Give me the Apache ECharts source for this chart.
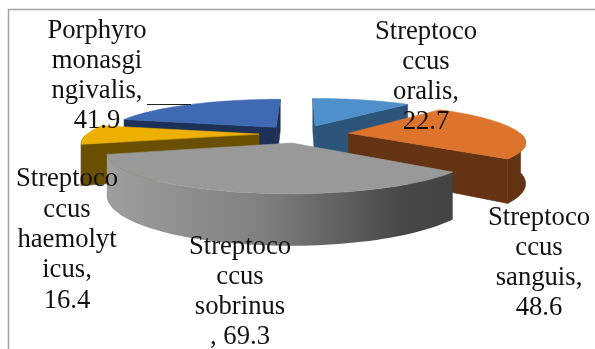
<!DOCTYPE html>
<html>
<head>
<meta charset="utf-8">
<style>html,body{margin:0;padding:0;background:#fff}#chart{width:595px;height:349px}</style>
<script src="https://cdn.jsdelivr.net/npm/echarts@6/dist/echarts.min.js"></script>
</head>
<body>
<div id="chart"></div>
<script>
// Bacterial species share, drawn as an exploded 3D pie (clockwise from 12 o'clock).
const names = [
  'Streptoco\nccus\noralis',
  'Streptoco\nccus\nsanguis',
  'Streptoco\nccus\nsobrinus',
  'Streptoco\nccus\nhaemolyt\nicus',
  'Porphyro\nmonasgi\nngivalis'
];
const values = [22.7, 48.6, 69.3, 16.4, 41.9];
const separators = [',\n', ',\n', '\n, ', ',\n', ',\n'];

const topColors = ['#4f8fca', '#dd742b', '#999999', '#edb000', '#3f69b3'];
const wallColors = ['#2c5479', '#633313', null, '#6b4f00', '#1d3157'];
const grayWall = {
  type: 'linear', x: 0, y: 0, x2: 1, y2: 0,
  colorStops: [
    { offset: 0, color: '#9e9e9e' },
    { offset: 0.45, color: '#808080' },
    { offset: 0.85, color: '#474747' },
    { offset: 1, color: '#434343' }
  ]
};
const labelCenters = [[426, 77], [539, 263], [240, 292], [67, 240], [97, 76]];
const explode = [42, 48, 42, 42, 42];

// Pie geometry and the perspective camera
const view = { cx: 301, cy: 134, radius: 172, tilt: 0.21, camera: 850, depth: 39 };
const total = values.reduce((a, b) => a + b, 0);
const rad = d => d * Math.PI / 180;

function project(wx, wy, drop) {
  const s = view.camera / (view.camera - wy);
  return [view.cx + wx * s, view.cy + view.tilt * wy * s + (drop ? view.depth * s : 0)];
}
function prism(i) {
  const before = values.slice(0, i).reduce((a, b) => a + b, 0);
  const a0 = before / total * 360, a1 = (before + values[i]) / total * 360;
  const mid = rad((a0 + a1) / 2);
  const ox = Math.sin(mid) * explode[i], oy = -Math.cos(mid) * explode[i];
  const rim = a => [ox + Math.sin(rad(a)) * view.radius, oy - Math.cos(rad(a)) * view.radius];
  return { a0, a1, mid, ox, oy, rim };
}

function renderSlice(params, api) {
  const i = params.dataIndex;
  const p = prism(i);
  const base = Math.round(Math.cos(p.mid + Math.PI) * 1000) + 2000;
  const children = [];
  const steps = Math.max(8, Math.ceil((p.a1 - p.a0) / 2));
  const angles = [];
  for (let k = 0; k <= steps; k++) angles.push(p.a0 + (p.a1 - p.a0) * k / steps);

  const addRadial = (angle, sign) => {
    const [rx, ry] = p.rim(angle);
    const nx = Math.sin(rad(angle + sign * 90)), ny = -Math.cos(rad(angle + sign * 90));
    const facing = nx * (0 - p.ox) + ny * (view.camera - p.oy) > 0;
    if (!facing) return;
    const fill = wallColors[i] || '#7a7a7a';
    children.push({
      type: 'polygon', z2: base,
      shape: { points: [project(p.ox, p.oy), project(rx, ry), project(rx, ry, true), project(p.ox, p.oy, true)] },
      style: { fill, stroke: fill, lineWidth: 0.6 }
    });
  };
  addRadial(p.a0, -1);
  addRadial(p.a1, 1);

  // Outer wall: only the stretch of rim turned towards the camera
  const wallAngles = angles.filter(a => a >= 90 && a <= 270);
  if (wallAngles.length > 1) {
    const upper = wallAngles.map(a => project(...p.rim(a)));
    const lower = wallAngles.map(a => project(...p.rim(a), true)).reverse();
    children.push({
      type: 'polygon', z2: base + 1,
      shape: { points: upper.concat(lower) },
      style: wallColors[i]
        ? { fill: wallColors[i], stroke: wallColors[i], lineWidth: 0.6 }
        : { fill: grayWall }
    });
  }

  // Top face
  const top = [project(p.ox, p.oy)].concat(angles.map(a => project(...p.rim(a))));
  children.push({
    type: 'polygon', z2: base + 2,
    shape: { points: top },
    style: { fill: topColors[i], stroke: topColors[i], lineWidth: 0.6 }
  });

  // Data label: name and value
  const [lx, ly] = labelCenters[i];
  children.push({
    type: 'text', z2: 9000,
    style: {
      text: names[i] + separators[i] + api.value(1),
      x: lx, y: ly, align: 'center', verticalAlign: 'middle',
      font: '26.67px "Liberation Serif", serif', lineHeight: 30.3, fill: '#111111'
    }
  });
  return { type: 'group', children };
}

const chart = echarts.init(document.getElementById('chart'), null, { renderer: 'canvas' });
chart.setOption({
  animation: false,
  backgroundColor: '#ffffff',
  graphic: [
    { type: 'polyline', shape: { points: [[8.5, 349], [8.5, 9.5], [595, 9.5]] }, style: { stroke: '#a3a3a3', lineWidth: 1.5, fill: 'none' }, z: 0 },
    { type: 'line', shape: { x1: 147, y1: 104.5, x2: 191, y2: 104.5 }, style: { stroke: '#222222', lineWidth: 1.2 }, z: 10 }
  ],
  series: [{
    type: 'custom',
    coordinateSystem: 'none',
    renderItem: renderSlice,
    data: values.map((v, i) => [i, v]),
    z: 5
  }]
});
</script>
</body>
</html>
